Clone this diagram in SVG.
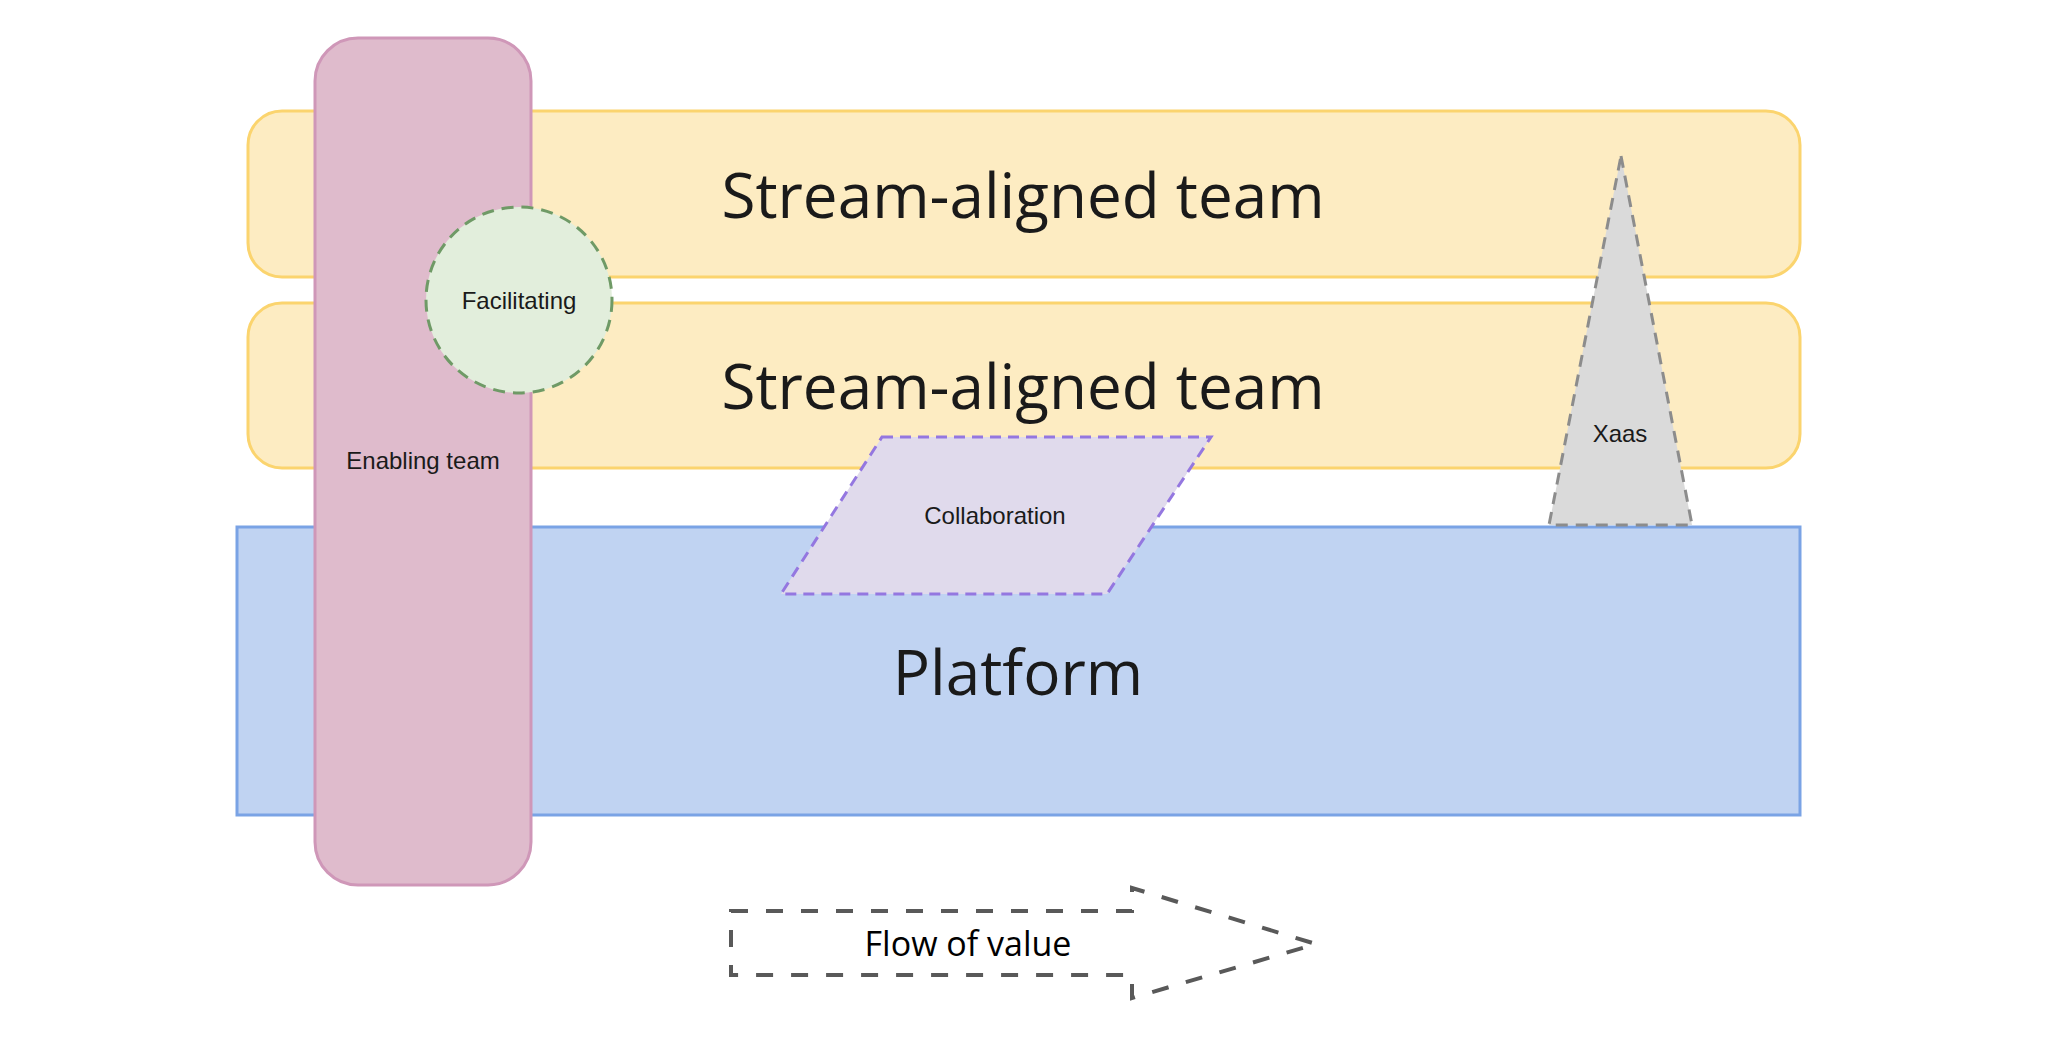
<svg xmlns="http://www.w3.org/2000/svg" width="2048" height="1060" viewBox="0 0 2048 1060">
  <style>
    .stream { fill: #fdecc2; stroke: #fbd46e; stroke-width: 3; }
    .big { font-family: "Open Sans", "Noto Sans", sans-serif; font-size: 62px; fill: #1a1a1a; text-anchor: middle; }
    .small { font-family: "Liberation Sans", Arial, sans-serif; font-size: 24px; fill: #1a1a1a; text-anchor: middle; }
    .flow { font-family: "Open Sans", "Noto Sans", sans-serif; font-size: 34px; fill: #000000; text-anchor: middle; }
  </style>
  <rect width="2048" height="1060" fill="#ffffff"/>
  <g id="stream1">
    <rect class="stream" x="248" y="111" width="1552" height="166" rx="34" ry="34"/>
    <text class="big" x="1023" y="218">Stream-aligned team</text>
  </g>
  <g id="stream2">
    <rect class="stream" x="248" y="303" width="1552" height="165" rx="34" ry="34"/>
    <text class="big" x="1023" y="409">Stream-aligned team</text>
  </g>
  <g id="platform">
    <rect x="237" y="527" width="1563" height="288" fill="#c0d3f2" stroke="#7aa3e5" stroke-width="3"/>
    <text class="big" x="1018" y="695">Platform</text>
  </g>
  <g id="enabling-team">
    <rect x="315" y="38" width="216" height="847" rx="43" ry="43" fill="#dfbbcc" stroke="#cf97b8" stroke-width="3"/>
    <text class="small" x="423" y="469">Enabling team</text>
  </g>
  <g id="facilitating">
    <circle cx="519" cy="300" r="93" fill="#e2eedc" stroke="#6f9a66" stroke-width="3" stroke-dasharray="12 8"/>
    <text class="small" x="519" y="309">Facilitating</text>
  </g>
  <g id="collaboration">
    <polygon points="882,437 1211,437 1107,594 781,594" fill="#e0daec" stroke="#9477e0" stroke-width="3" stroke-dasharray="11 7"/>
    <text class="small" x="995" y="524">Collaboration</text>
  </g>
  <g id="xaas">
    <polygon points="1621,156 1692,525 1549,525" fill="#dadada" stroke="#8c8c8c" stroke-width="3" stroke-dasharray="12 8"/>
    <text class="small" x="1620" y="442">Xaas</text>
  </g>
  <g id="flow-of-value">
    <path d="M731,911 L1132,911 L1132,888 L1316,944 L1132,998 L1132,975 L731,975 Z" fill="none" stroke="#595959" stroke-width="4" stroke-dasharray="17 18"/>
    <text class="flow" x="968" y="956">Flow of value</text>
  </g>
  <g id="connectors"/>
</svg>
